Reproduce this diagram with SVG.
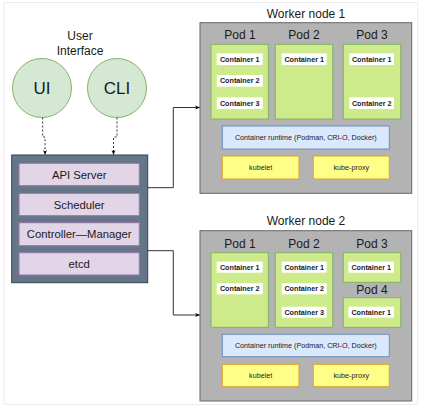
<svg xmlns="http://www.w3.org/2000/svg" width="430" height="411" viewBox="0 0 430 411">
<defs>
<marker id="arr" viewBox="0 0 10 10" refX="9" refY="5" markerWidth="5" markerHeight="5" orient="auto" markerUnits="userSpaceOnUse">
<path d="M0,1 L10,5 L0,9 L3,5 Z" fill="#000"/>
</marker>
<style>
text{font-family:"Liberation Sans",Arial,sans-serif;fill:#1a1a1a;text-anchor:middle;dominant-baseline:central}
.circ{fill:#d5e8d4;stroke:#82b366;stroke-width:1}
.cp{fill:#647687;stroke:#314354;stroke-width:1}
.cpi{fill:#e1d5e7;stroke:#9673a6;stroke-width:1}
.wn{fill:#b3b3b3;stroke:#666;stroke-width:1}
.pod{fill:#cdeb8b;stroke:#82b366;stroke-width:1}
.ct{fill:#fff}
.ctt{font-size:7.2px;font-weight:bold}
.rt{fill:#dae8fc;stroke:#6c8ebf;stroke-width:1}
.ky{fill:#ffff88;stroke:#e0a030;stroke-width:1}
.sm{font-size:7.2px}
.lbl{font-size:12px}
.cpt{font-size:11.3px}
.big{font-size:17px}
.edge{fill:none;stroke:#333;stroke-width:1}
.dash{stroke-dasharray:2 2}
</style>
</defs>
<rect x="4" y="2.5" width="413.7" height="402" fill="#fff" stroke="#eeeeee" stroke-width="1"/>

<g id="user-interface">
<text x="80" y="36" class="lbl">User</text>
<text x="80" y="51" class="lbl">Interface</text>
</g>
<g id="ui">
<circle cx="42" cy="88" r="29.5" class="circ"/>
<text x="42" y="88" class="big">UI</text>
</g>
<g id="cli">
<circle cx="117" cy="88" r="29.5" class="circ"/>
<text x="117" y="88" class="big">CLI</text>
</g>

<g id="control-plane">
<rect x="11.7" y="155" width="136" height="127.7" class="cp"/>
<g id="api-server"><rect x="19" y="163.3" width="120.3" height="22.4" class="cpi"/><text x="79.2" y="174.5" class="cpt">API Server</text></g>
<g id="scheduler"><rect x="19" y="193.3" width="120.3" height="22.4" class="cpi"/><text x="79.2" y="204.5" class="cpt">Scheduler</text></g>
<g id="controller-manager"><rect x="19" y="222.7" width="120.3" height="23" class="cpi"/><text x="79.2" y="234.2" class="cpt">Controller—Manager</text></g>
<g id="etcd"><rect x="19" y="252.7" width="120.3" height="22.3" class="cpi"/><text x="79.2" y="263.8" class="cpt">etcd</text></g>
</g>

<g id="worker-node-1">
<text x="306" y="14" class="lbl">Worker node 1</text>
<rect x="200" y="22.7" width="211.7" height="170.6" class="wn"/>
<g id="wn1-pod1">
<text x="240" y="35" class="lbl">Pod 1</text>
<rect x="211" y="44.3" width="57.3" height="74.7" class="pod"/>
<rect x="216.7" y="53.3" width="46" height="11.7" class="ct"/><text x="239.7" y="59.2" class="ctt">Container 1</text>
<rect x="216.7" y="75" width="46" height="11.7" class="ct"/><text x="239.7" y="80.9" class="ctt">Container 2</text>
<rect x="216.7" y="97.3" width="46" height="11.7" class="ct"/><text x="239.7" y="103.2" class="ctt">Container 3</text>
</g>
<g id="wn1-pod2">
<text x="304" y="35" class="lbl">Pod 2</text>
<rect x="275.3" y="44.3" width="57.4" height="74.7" class="pod"/>
<rect x="281.7" y="53.3" width="45" height="11.7" class="ct"/><text x="304.2" y="59.2" class="ctt">Container 1</text>
</g>
<g id="wn1-pod3">
<text x="372" y="35" class="lbl">Pod 3</text>
<rect x="343.3" y="44.3" width="57.4" height="74.7" class="pod"/>
<rect x="349.3" y="53.3" width="44.7" height="11.7" class="ct"/><text x="371.7" y="59.2" class="ctt">Container 1</text>
<rect x="349.3" y="97.3" width="44.7" height="11.7" class="ct"/><text x="371.7" y="103.2" class="ctt">Container 2</text>
</g>
<g id="wn1-runtime"><rect x="222.3" y="126" width="167" height="23" class="rt"/><text x="305.8" y="137.5" class="sm">Container runtime (Podman, CRI-O, Docker)</text></g>
<g id="wn1-kubelet"><rect x="222.3" y="156" width="76.7" height="23" class="ky"/><text x="260.7" y="167.5" class="sm">kubelet</text></g>
<g id="wn1-kube-proxy"><rect x="313.3" y="156" width="76" height="23" class="ky"/><text x="351.3" y="167.5" class="sm">kube-proxy</text></g>
</g>

<g id="worker-node-2">
<text x="306" y="220.7" class="lbl">Worker node 2</text>
<rect x="200" y="230.7" width="211.7" height="170.3" class="wn"/>
<g id="wn2-pod1">
<text x="240" y="244" class="lbl">Pod 1</text>
<rect x="211" y="252.7" width="57.3" height="74.6" class="pod"/>
<rect x="216.7" y="261.7" width="46" height="11" class="ct"/><text x="239.7" y="267.2" class="ctt">Container 1</text>
<rect x="216.7" y="283.3" width="46" height="11" class="ct"/><text x="239.7" y="288.8" class="ctt">Container 2</text>
</g>
<g id="wn2-pod2">
<text x="304" y="244" class="lbl">Pod 2</text>
<rect x="275.3" y="252.7" width="57.4" height="74.6" class="pod"/>
<rect x="281.7" y="261.7" width="45" height="11" class="ct"/><text x="304.2" y="267.2" class="ctt">Container 1</text>
<rect x="281.7" y="283.3" width="45" height="11" class="ct"/><text x="304.2" y="288.8" class="ctt">Container 2</text>
<rect x="281.7" y="306.7" width="45" height="11" class="ct"/><text x="304.2" y="312.2" class="ctt">Container 3</text>
</g>
<g id="wn2-pod3">
<text x="372" y="244" class="lbl">Pod 3</text>
<rect x="343.3" y="252.7" width="57.4" height="29.6" class="pod"/>
<rect x="348.3" y="261.7" width="45.7" height="11" class="ct"/><text x="371.2" y="267.2" class="ctt">Container 1</text>
</g>
<g id="wn2-pod4">
<text x="372" y="290" class="lbl">Pod 4</text>
<rect x="343.3" y="297.7" width="57.4" height="29.6" class="pod"/>
<rect x="348.3" y="306.7" width="45.7" height="11" class="ct"/><text x="371.2" y="312.2" class="ctt">Container 1</text>
</g>
<g id="wn2-runtime"><rect x="222.3" y="334.3" width="167" height="22.4" class="rt"/><text x="305.8" y="345.5" class="sm">Container runtime (Podman, CRI-O, Docker)</text></g>
<g id="wn2-kubelet"><rect x="222.3" y="364.3" width="76.7" height="22.4" class="ky"/><text x="260.7" y="375.5" class="sm">kubelet</text></g>
<g id="wn2-kube-proxy"><rect x="313.3" y="364.3" width="76" height="22.4" class="ky"/><text x="351.3" y="375.5" class="sm">kube-proxy</text></g>
</g>

<g id="connectors">
<path d="M42.7,117.5 V137 H45 V154.5" class="edge dash" marker-end="url(#arr)"/>
<path d="M117,117.5 V137 H113.5 V154.5" class="edge dash" marker-end="url(#arr)"/>
<path d="M147.7,187.7 H173.3 V107.5 H199.5" class="edge" marker-end="url(#arr)"/>
<path d="M147.7,250.7 H173.3 V315 H199.5" class="edge" marker-end="url(#arr)"/>
</g>
</svg>
